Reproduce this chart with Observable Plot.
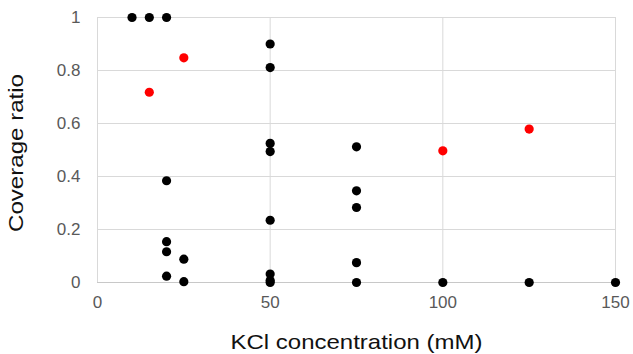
<!DOCTYPE html>
<html>
<head>
<meta charset="utf-8">
<script src="https://cdn.jsdelivr.net/npm/d3@7"></script>
<script src="https://cdn.jsdelivr.net/npm/@observablehq/plot@0.6"></script>
<style>
  html, body { margin: 0; padding: 0; background: #fff; }
  #chart { width: 633px; height: 354px; }
</style>
</head>
<body>
<div id="chart"></div>
<script>
// Black series: KCl concentration (mM) and coverage ratio
const blackX = [10, 15, 20, 20, 20, 20, 20, 25, 25, 50, 50, 50, 50, 50, 50, 50, 50, 75, 75, 75, 75, 75, 100, 125, 150];
const blackY = [1, 1, 1, 0.384, 0.154, 0.116, 0.024, 0.088, 0.003, 0.90, 0.811, 0.525, 0.494, 0.235, 0.032, 0.008, 0.0, 0.512, 0.346, 0.283, 0.075, 0.0, 0.0, 0.0, 0.0];
// Red series
const redX = [15, 25, 100, 125];
const redY = [0.718, 0.848, 0.497, 0.579];

const xTicks = [0, 50, 100, 150];
const yTicks = [0, 0.2, 0.4, 0.6, 0.8, 1];
const xTitle = "KCl concentration (mM)";
const yTitle = "Coverage ratio";

const black = blackX.map((x, i) => ({x, y: blackY[i]}));
const red = redX.map((x, i) => ({x, y: redY[i]}));

const font = "'Liberation Sans', Arial, sans-serif";

const chart = Plot.plot({
  width: 633,
  height: 354,
  marginLeft: 97,
  marginRight: 18,
  marginTop: 17,
  marginBottom: 72,
  style: {fontFamily: font, background: "#fff", overflow: "visible"},
  x: {domain: [0, 150]},
  y: {domain: [0, 1]},
  marks: [
    Plot.ruleX(xTicks, {stroke: "#d9d9d9", strokeWidth: 1}),
    Plot.ruleY(yTicks.filter(d => d > 0), {stroke: "#d9d9d9", strokeWidth: 1}),
    Plot.ruleY([0], {stroke: "#c8c8c8", strokeWidth: 1}),
    Plot.axisX(xTicks, {tickSize: 0, tickPadding: 13, fontSize: 17, fill: "#595959", label: null,
      tickFormat: d => String(d), className: "xtick"}),
    Plot.axisY(yTicks, {tickSize: 0, tickPadding: 17, fontSize: 17, fill: "#595959", label: null,
      tickFormat: d => String(d), className: "ytick"}),
    Plot.dot(black, {x: "x", y: "y", r: 4.6, fill: "#000", stroke: null}),
    Plot.dot(red, {x: "x", y: "y", r: 4.6, fill: "#ff0000", stroke: null}),
    Plot.text([xTitle], {frameAnchor: "bottom", dy: 66, fontSize: 21, fill: "#111", text: d => d, className: "xtitle"}),
    Plot.text([yTitle], {frameAnchor: "left", dx: -81, dy: 3, rotate: -90, fontSize: 21, fill: "#111", text: d => d, className: "ytitle"})
  ]
});
// stretch the titles to the reference's measured extents, keeping them centred
function stretch(sel, len) {
  chart.querySelectorAll(sel + " text").forEach(t => {
    t.setAttribute("textLength", len);
    t.setAttribute("lengthAdjust", "spacingAndGlyphs");
    t.setAttribute("text-anchor", "start");
    t.style.textAnchor = "start";
    t.setAttribute("x", -len / 2);
  });
}
stretch(".xtitle", 252);
stretch(".ytitle", 158);
document.getElementById("chart").appendChild(chart);
</script>
</body>
</html>
